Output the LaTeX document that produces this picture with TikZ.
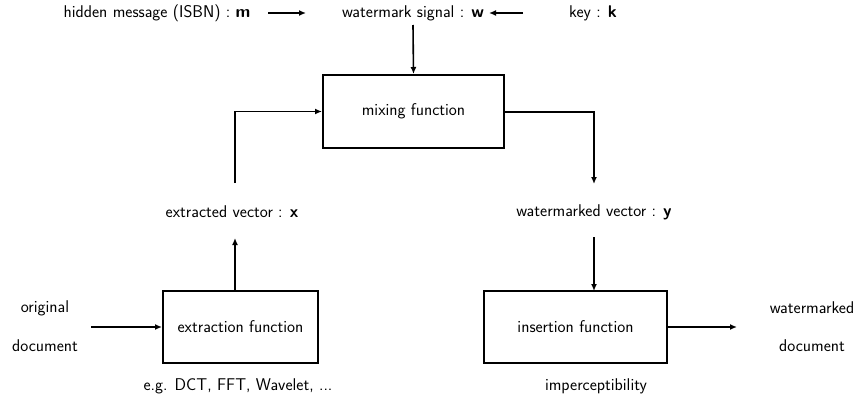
\documentclass[tikz,border=0pt]{standalone}
\usetikzlibrary{arrows.meta}
\renewcommand{\familydefault}{\sfdefault}
\begin{document}
\begin{tikzpicture}[x=1pt,y=-1pt,
  txt/.style={font=\fontsize{17}{20}\selectfont\sffamily, inner sep=0pt},
  box/.style={draw, line width=2pt, inner sep=0pt, font=\fontsize{17}{20}\selectfont\sffamily},
  conn/.style={line width=1.6pt, -{Latex[length=7pt,width=6pt]}}]
\useasboundingbox (0,0) rectangle (855,399);
% top row
\node[txt] (msg) at (157,13) {hidden message (ISBN) : \textbf{m}};
\node[txt] (wsig) at (413,13) {watermark signal : \textbf{w}};
\node[txt] (key) at (593,13) {key : \textbf{k}};
\coordinate (m1) at (268,13);
\coordinate (m2) at (306,13);
\coordinate (k1) at (523,13);
\coordinate (k2) at (489,13);
\draw[conn] (m1) -- (m2);
\draw[conn] (k1) -- (k2);
% mixing
\node[box, minimum width=181pt, minimum height=73pt] (mix) at (413.5,111.5) {mixing function};
\draw[conn] (wsig.south |- 0,25) -- (mix.north);
% extraction
\node[box, minimum width=155pt, minimum height=72pt] (ext) at (240.5,327) {extraction function};
\node[txt] (orig) at (45,308) {original};
\node[txt] (odoc) at (45,346) {document};
\coordinate (in1) at (91,327);
\draw[conn] (in1) -- (ext.west);
\node[txt] (egs) at (238,386) {e.g. DCT, FFT, Wavelet, ...};
% extracted vector
\node[txt] (xvec) at (232,212) {extracted vector : \textbf{x}};
\coordinate (xa) at (235,291);
\coordinate (xb) at (235,238);
\draw[conn] (xa) -- (xb);
\coordinate (xc) at (235,183);
\draw[conn] (xc) |- (mix.west);
% watermarked vector
\node[txt] (yvec) at (594,212) {watermarked vector : \textbf{y}};
\coordinate (yc) at (594,184);
\draw[conn, line width=2pt] (mix.east) -| (yc);
% insertion
\node[box, minimum width=183pt, minimum height=72pt] (ins) at (575.5,327) {insertion function};
\coordinate (ya) at (594,237);
\coordinate (yb) at (594,291);
\draw[conn, line width=2pt] (ya) -- (yb);
\coordinate (out) at (737,327);
\draw[conn] (ins.east) -- (out);
\node[txt] (wm) at (812,308) {watermarked};
\node[txt] (wdoc) at (812,346) {document};
\node[txt] (imp) at (596,386) {imperceptibility};
\end{tikzpicture}
\end{document}
